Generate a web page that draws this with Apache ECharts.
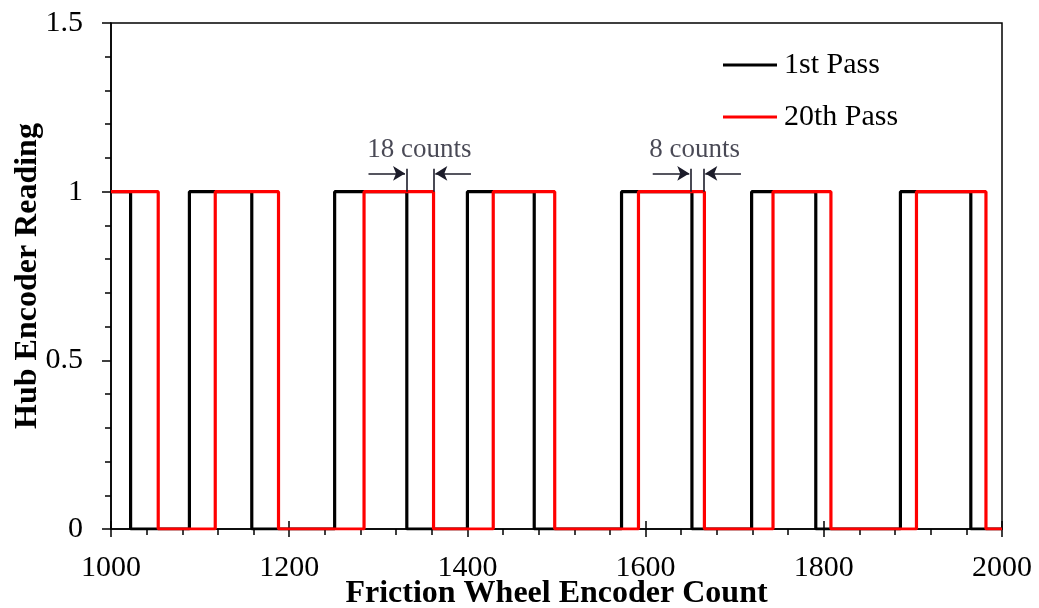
<!DOCTYPE html>
<html>
<head>
<meta charset="utf-8">
<script src="https://cdn.jsdelivr.net/npm/echarts@6/dist/echarts.min.js"></script>
<style>
  html, body { margin: 0; padding: 0; background: #fff; }
  #chart { width: 1039px; height: 608px; }
</style>
</head>
<body>
<div id="chart"></div>
<script>
// Hub encoder state (0/1) at each friction-wheel count where it changes
const pass1 = [
  [1000, 1], [1022, 0], [1088, 1], [1158, 0], [1251, 1], [1332, 0], [1400, 1],
  [1475, 0], [1573, 1], [1652, 0], [1719, 1], [1791, 0], [1886, 1], [1965, 0], [2000, 0]
];
const pass20 = [
  [1000, 1], [1053, 0], [1117, 1], [1188, 0], [1284, 1], [1362, 0], [1429, 1],
  [1498, 0], [1592, 1], [1666, 0], [1743, 1], [1808, 0], [1904, 1], [1982, 0], [2000, 0]
];
const seriesNames = ['1st Pass', '20th Pass'];

// Offset annotations: edge markers, arrows and their labels
const offsetEdges = [1332, 1362, 1651, 1665];
const offsetArrows = [
  [1289, 1330], [1404, 1364],
  [1608, 1649], [1707, 1667]
];
const offsetLabels = [[1346, 1.125, '18 counts'], [1655, 1.125, '8 counts']];

const xTicks = { min: 1000, max: 2000, interval: 200 };
const yTicks = { min: 0, max: 1.5, interval: 0.5 };

const serif = '"Liberation Serif", "Times New Roman", serif';
const inkColor = '#1c1c2a';
const markTop = 1.068;
const arrowY = 1.054;

const edgeLines = offsetEdges.map(x => [{ coord: [x, 1] }, { coord: [x, markTop] }]);
const arrowLines = offsetArrows.map(([from, to]) => [
  { coord: [from, arrowY], symbol: 'none' },
  { coord: [to, arrowY], symbol: 'arrow' }
]);

const chart = echarts.init(document.getElementById('chart'), null, { renderer: 'canvas' });

chart.setOption({
  animation: false,
  backgroundColor: '#fff',
  grid: {
    left: 111, right: 37, top: 23, bottom: 79,
    outerBoundsMode: 'none',
    containLabel: false,
    show: true, borderColor: '#000', borderWidth: 1.5, backgroundColor: 'transparent'
  },
  legend: {
    data: seriesNames,
    orient: 'vertical',
    left: 718, top: 45,
    itemWidth: 54, itemHeight: 3, itemGap: 22,
    icon: 'rect',
    textStyle: { fontFamily: serif, fontSize: 30, color: '#000', lineHeight: 30, padding: [0, 0, 0, 2] }
  },
  xAxis: [{
    type: 'value',
    min: xTicks.min, max: xTicks.max, interval: xTicks.interval,
    name: 'Friction Wheel Encoder Count',
    nameLocation: 'middle', nameGap: 49,
    nameMoveOverlap: false,
    nameTextStyle: { fontFamily: serif, fontSize: 32, fontWeight: 'bold', color: '#000' },
    axisLine: { show: true, onZero: false, lineStyle: { color: '#000', width: 1.5 } },
    axisTick: { show: true, inside: false, length: 8, lineStyle: { color: '#000', width: 1.5 } },
    minorTick: { show: true, splitNumber: 5, length: 6, lineStyle: { color: '#000', width: 1.5 } },
    axisLabel: { fontFamily: serif, fontSize: 30, color: '#000', margin: 24, formatter: v => String(v) },
    splitLine: { show: false }
  }, {
    // inward half of the cross-style major ticks
    type: 'value',
    position: 'bottom',
    min: xTicks.min, max: xTicks.max, interval: xTicks.interval,
    axisLine: { show: false },
    axisTick: { show: true, inside: true, length: 8, lineStyle: { color: '#000', width: 1.5 } },
    axisLabel: { show: false },
    splitLine: { show: false }
  }],
  yAxis: {
    type: 'value',
    min: yTicks.min, max: yTicks.max, interval: yTicks.interval,
    name: 'Hub Encoder Reading',
    nameLocation: 'middle', nameGap: 67,
    nameMoveOverlap: false,
    nameTextStyle: { fontFamily: serif, fontSize: 32, fontWeight: 'bold', color: '#000' },
    axisLine: { show: true, onZero: false, lineStyle: { color: '#000', width: 1.5 } },
    axisTick: { show: true, inside: false, length: 9, lineStyle: { color: '#000', width: 1.5 } },
    minorTick: { show: true, splitNumber: 5, length: 6, lineStyle: { color: '#000', width: 1.5 } },
    axisLabel: { fontFamily: serif, fontSize: 30, color: '#000', margin: 28, formatter: v => String(v) },
    splitLine: { show: false }
  },
  series: [
    {
      name: seriesNames[0],
      type: 'line',
      step: 'end',
      data: pass1,
      showSymbol: false,
      color: '#000',
      lineStyle: { color: '#000', width: 3.2 },
      z: 2
    },
    {
      name: seriesNames[1],
      type: 'line',
      step: 'end',
      data: pass20,
      showSymbol: false,
      color: '#ff0000',
      lineStyle: { color: '#ff0000', width: 3.2 },
      z: 3
    },
    {
      name: 'offsets',
      type: 'scatter',
      data: offsetLabels,
      symbolSize: 0,
      silent: true,
      z: 4,
      label: {
        show: true,
        position: 'inside',
        formatter: p => p.value[2],
        fontFamily: serif, fontSize: 27, color: inkColor
      },
      markLine: {
        silent: true,
        symbol: 'none',
        symbolSize: [11, 12],
        label: { show: false },
        lineStyle: { color: inkColor, width: 1.6, type: 'solid' },
        emphasis: { disabled: true },
        data: edgeLines.concat(arrowLines)
      }
    }
  ]
});
</script>
</body>
</html>
